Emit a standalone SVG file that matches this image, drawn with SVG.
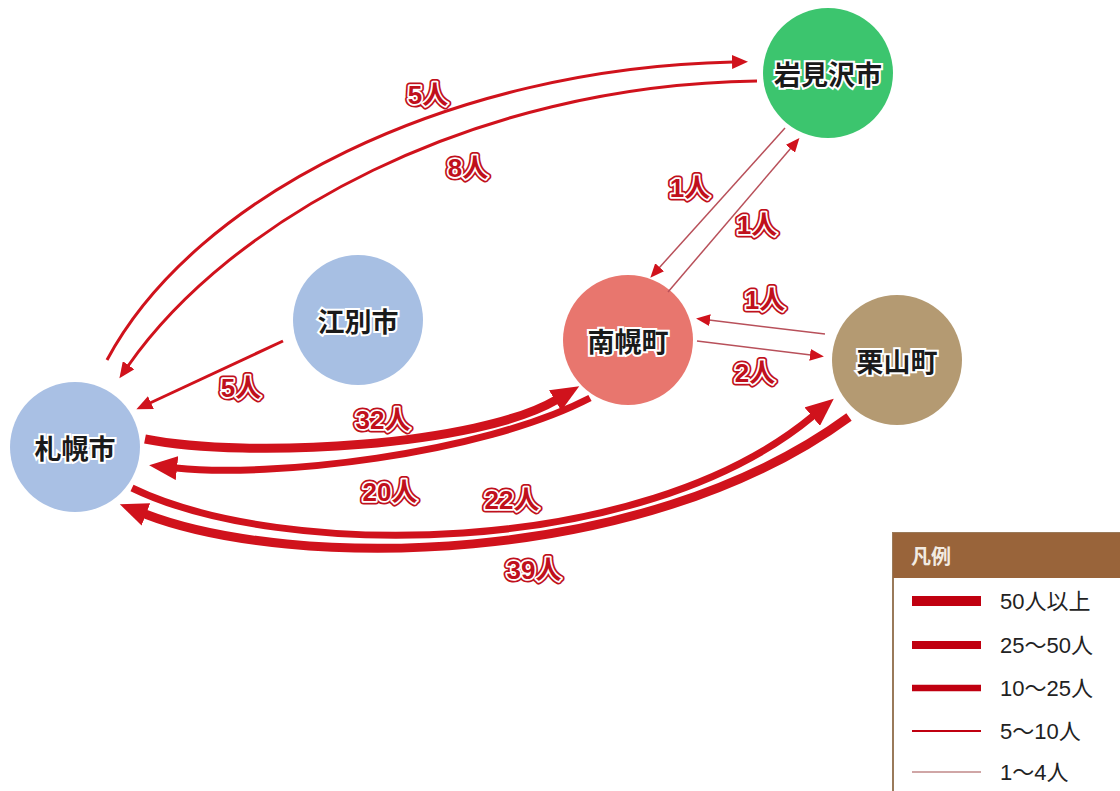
<svg xmlns="http://www.w3.org/2000/svg" width="1120" height="791" viewBox="0 0 1120 791">
<style>
.node text{font-family:"Noto Sans CJK JP",sans-serif;font-size:27px;font-weight:700;fill:#1a1a1a;stroke:#ffffff;stroke-width:4;paint-order:stroke fill;text-anchor:middle;dominant-baseline:central}
.a{fill:none;stroke:#d0121c}
.w9{stroke-width:9}
.w7{stroke-width:7}
.w3{stroke-width:3}
.w1{stroke:#b8505a;stroke-width:1.5}
.lo{font-family:"Liberation Sans","Noto Sans CJK JP",sans-serif;font-size:26px;font-weight:700;fill:none;stroke:#c0101c;stroke-width:7;stroke-linejoin:round;text-anchor:middle;dominant-baseline:central}
.li{font-family:"Liberation Sans","Noto Sans CJK JP",sans-serif;font-size:26px;font-weight:700;fill:#c0101c;stroke:#ffffff;stroke-width:3.5;stroke-linejoin:round;paint-order:stroke fill;text-anchor:middle;dominant-baseline:central}
.lg{font-family:"Liberation Sans Narrow","Liberation Sans","Noto Sans CJK JP",sans-serif;font-size:22px;fill:#222}
</style>
<defs>
<marker id="mB" markerUnits="userSpaceOnUse" markerWidth="30" markerHeight="24" refX="1" refY="12" orient="auto" viewBox="0 0 30 24"><path d="M0,0 L28,12 L0,24 z" fill="#d0121c"/></marker>
<marker id="mM" markerUnits="userSpaceOnUse" markerWidth="18" markerHeight="14" refX="1" refY="7" orient="auto" viewBox="0 0 18 14"><path d="M0,0 L16,7 L0,14 z" fill="#d0121c"/></marker>
<marker id="mS" markerUnits="userSpaceOnUse" markerWidth="16" markerHeight="12" refX="1" refY="6" orient="auto" viewBox="0 0 16 12"><path d="M0,0 L14,6 L0,12 z" fill="#d0121c"/></marker>
</defs>
<rect width="1120" height="791" fill="#ffffff"/>

<g id="nodes">
<g id="sapporo" class="node"><circle cx="75" cy="447" r="65" fill="#a9c0e4"/><text x="75" y="447">札幌市</text></g>
<g id="ebetsu" class="node"><circle cx="358" cy="320" r="65" fill="#a7bfe3"/><text x="358" y="320">江別市</text></g>
<g id="nanporo" class="node"><circle cx="628" cy="340" r="65" fill="#e8766e"/><text x="628" y="340">南幌町</text></g>
<g id="iwamizawa" class="node"><circle cx="828" cy="73" r="65" fill="#3cc56e"/><text x="828" y="73">岩見沢市</text></g>
<g id="kuriyama" class="node"><circle cx="897" cy="360" r="65" fill="#b49a72"/><text x="897" y="360">栗山町</text></g>
</g>

<g id="connectors">
<path class="a w3" d="M107,360 C195,195 450,68 733,62" marker-end="url(#mM)"/>
<path class="a w3" d="M757,81 C470,85 230,220 128,366" marker-end="url(#mM)"/>
<path class="a w3" d="M283,341 L150,403" marker-end="url(#mM)"/>
<path class="a w9" d="M145,439 C250,460 480,445 556,400" marker-end="url(#mB)"/>
<path class="a w7" d="M590,398 C480,455 270,478 176,468" marker-end="url(#mB)"/>
<path class="a w7" d="M132,488 C280,560 640,560 813,416" marker-end="url(#mB)"/>
<path class="a w9" d="M849,417 C640,570 290,570 145,514" marker-end="url(#mB)"/>
<path class="a w1" d="M668,292 L791,148" marker-end="url(#mS)"/>
<path class="a w1" d="M785,128 L659,268" marker-end="url(#mS)"/>
<path class="a w1" d="M825,334 L709,320" marker-end="url(#mS)"/>
<path class="a w1" d="M697,341 L811,355" marker-end="url(#mS)"/>
</g>

<g id="labels">
<text class="lo" x="428" y="95">5人</text><text class="li" x="428" y="95">5人</text>
<text class="lo" x="468" y="168">8人</text><text class="li" x="468" y="168">8人</text>
<text class="lo" x="690" y="188">1人</text><text class="li" x="690" y="188">1人</text>
<text class="lo" x="757" y="225">1人</text><text class="li" x="757" y="225">1人</text>
<text class="lo" x="765" y="300">1人</text><text class="li" x="765" y="300">1人</text>
<text class="lo" x="755" y="373">2人</text><text class="li" x="755" y="373">2人</text>
<text class="lo" x="241" y="388">5人</text><text class="li" x="241" y="388">5人</text>
<text class="lo" x="383" y="420">32人</text><text class="li" x="383" y="420">32人</text>
<text class="lo" x="390" y="492">20人</text><text class="li" x="390" y="492">20人</text>
<text class="lo" x="512" y="500">22人</text><text class="li" x="512" y="500">22人</text>
<text class="lo" x="534" y="570">39人</text><text class="li" x="534" y="570">39人</text>
</g>

<g id="legend">
<rect x="893" y="533" width="240" height="270" fill="#ffffff" stroke="#9a7a5a" stroke-width="2"/>
<rect x="893" y="533" width="240" height="45" fill="#99643a"/>
<text x="911" y="564" font-family="Noto Sans CJK JP,sans-serif" font-size="20" font-weight="700" fill="#f2ebe2">凡例</text>
<line x1="912" y1="601" x2="981" y2="601" stroke="#c00010" stroke-width="10"/>
<line x1="912" y1="645" x2="981" y2="645" stroke="#c00010" stroke-width="8"/>
<line x1="912" y1="688" x2="981" y2="688" stroke="#c00010" stroke-width="6.5"/>
<line x1="912" y1="731" x2="981" y2="731" stroke="#c00010" stroke-width="2.2"/>
<line x1="912" y1="772" x2="981" y2="772" stroke="#c08888" stroke-width="1.5"/>
<text class="lg" x="1000" y="609">50人以上</text>
<text class="lg" x="1000" y="653">25～50人</text>
<text class="lg" x="1000" y="696">10～25人</text>
<text class="lg" x="1000" y="739">5～10人</text>
<text class="lg" x="1000" y="780">1～4人</text>
</g>
</svg>
